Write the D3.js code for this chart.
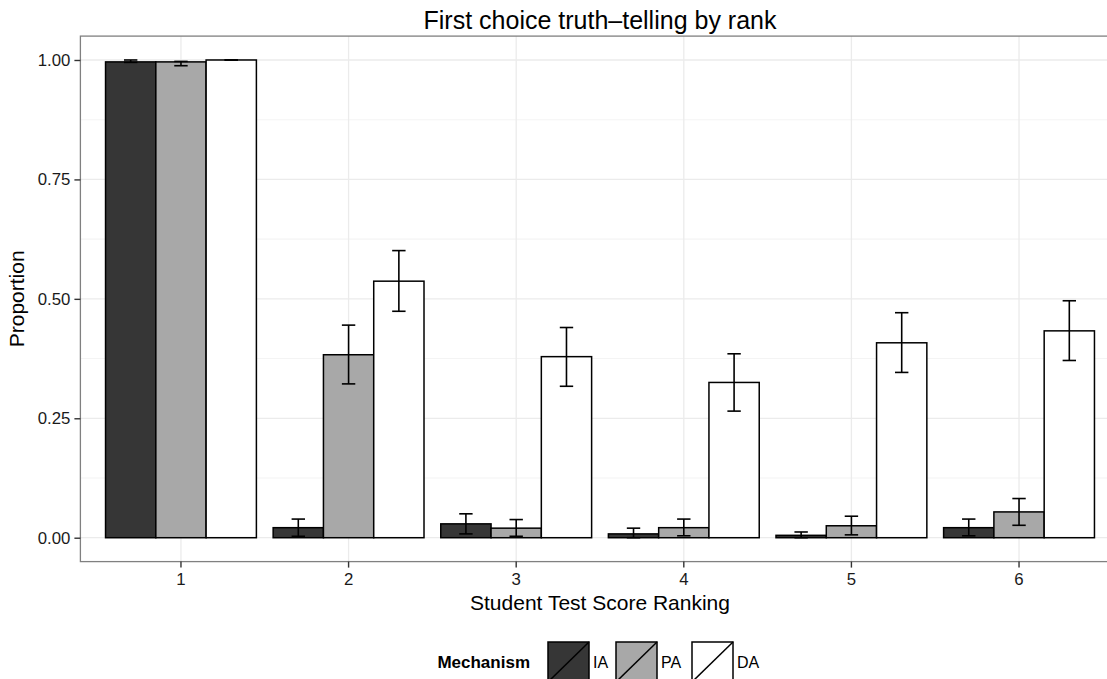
<!DOCTYPE html>
<html>
<head>
<meta charset="utf-8">
<script src="https://cdn.jsdelivr.net/npm/d3@7"></script>
<style>
  html, body { margin: 0; padding: 0; background: #fff; }
  svg { display: block; font-family: "Liberation Sans", Arial, sans-serif; }
</style>
</head>
<body>
<svg id="chart" width="1107" height="679"></svg>
<script>
// Student test score ranking categories and mechanisms
const ranks = ["1", "2", "3", "4", "5", "6"];
const mechanisms = ["IA", "PA", "DA"];
const mechanismFills = ["#363636", "#a8a8a8", "#ffffff"];

// Proportion of first-choice truth-telling, by rank, for each mechanism
const valuesIA = [0.996, 0.021, 0.029, 0.008, 0.005, 0.021];
const valuesPA = [0.996, 0.383, 0.020, 0.021, 0.025, 0.054];
const valuesDA = [1.000, 0.537, 0.379, 0.325, 0.408, 0.433];

// Error bar bounds
const lowerIA = [0.995, 0.003, 0.008, 0.000, 0.000, 0.004];
const upperIA = [1.000, 0.039, 0.050, 0.020, 0.012, 0.039];
const lowerPA = [0.988, 0.322, 0.003, 0.004, 0.006, 0.026];
const upperPA = [0.997, 0.445, 0.038, 0.039, 0.045, 0.082];
const lowerDA = [1.000, 0.474, 0.317, 0.265, 0.346, 0.371];
const upperDA = [1.000, 0.601, 0.440, 0.385, 0.471, 0.496];

const yTicks = [0, 0.25, 0.5, 0.75, 1.0];
const yMinor = [0.125, 0.375, 0.625, 0.875];

const series = {
  IA: { v: valuesIA, lo: lowerIA, hi: upperIA },
  PA: { v: valuesPA, lo: lowerPA, hi: upperPA },
  DA: { v: valuesDA, lo: lowerDA, hi: upperDA }
};

const rows = [];
ranks.forEach((r, i) => {
  mechanisms.forEach(m => {
    rows.push({ rank: r, mech: m, value: series[m].v[i], lo: series[m].lo[i], hi: series[m].hi[i] });
  });
});

const svg = d3.select("#chart");

const panel = { left: 80.4, right: 1119.6, top: 36.1, bottom: 561.6 };

const x = d3.scaleBand()
  .domain(ranks)
  .range([panel.left, panel.right])
  .paddingInner(0.1)
  .paddingOuter(0.15);

const xSub = d3.scaleBand()
  .domain(mechanisms)
  .range([0, x.bandwidth()]);

const y = d3.scaleLinear()
  .domain([-0.05, 1.05])
  .range([panel.bottom, panel.top]);

const fill = d3.scaleOrdinal().domain(mechanisms).range(mechanismFills);

// Panel background and grid
const g = svg.append("g");
g.append("rect")
  .attr("x", panel.left).attr("y", panel.top)
  .attr("width", panel.right - panel.left).attr("height", panel.bottom - panel.top)
  .attr("fill", "#fff");

g.selectAll("line.minor").data(yMinor).join("line")
  .attr("x1", panel.left).attr("x2", panel.right)
  .attr("y1", d => y(d)).attr("y2", d => y(d))
  .attr("stroke", "#f4f4f4").attr("stroke-width", 1.1);

g.selectAll("line.majy").data(yTicks).join("line")
  .attr("x1", panel.left).attr("x2", panel.right)
  .attr("y1", d => y(d)).attr("y2", d => y(d))
  .attr("stroke", "#ebebeb").attr("stroke-width", 1.3);

g.selectAll("line.majx").data(ranks).join("line")
  .attr("x1", d => x(d) + x.bandwidth() / 2).attr("x2", d => x(d) + x.bandwidth() / 2)
  .attr("y1", panel.top).attr("y2", panel.bottom)
  .attr("stroke", "#ebebeb").attr("stroke-width", 1.3);

// Bars
const barX = d => x(d.rank) + xSub(d.mech);
g.selectAll("rect.bar").data(rows).join("rect")
  .attr("class", "bar")
  .attr("x", barX)
  .attr("width", xSub.bandwidth())
  .attr("y", d => y(d.value))
  .attr("height", d => y(0) - y(d.value))
  .attr("fill", d => fill(d.mech))
  .attr("stroke", "#000")
  .attr("stroke-width", 1.5);

// Error bars
const capHalf = 6.7;
const eb = g.selectAll("g.err").data(rows).join("g").attr("class", "err")
  .attr("stroke", "#000").attr("stroke-width", 1.6);
eb.append("line")
  .attr("x1", d => barX(d) + xSub.bandwidth() / 2).attr("x2", d => barX(d) + xSub.bandwidth() / 2)
  .attr("y1", d => y(d.lo)).attr("y2", d => y(d.hi));
eb.append("line")
  .attr("x1", d => barX(d) + xSub.bandwidth() / 2 - capHalf).attr("x2", d => barX(d) + xSub.bandwidth() / 2 + capHalf)
  .attr("y1", d => y(d.hi)).attr("y2", d => y(d.hi));
eb.append("line")
  .attr("x1", d => barX(d) + xSub.bandwidth() / 2 - capHalf).attr("x2", d => barX(d) + xSub.bandwidth() / 2 + capHalf)
  .attr("y1", d => y(d.lo)).attr("y2", d => y(d.lo));

// Panel border
g.append("rect")
  .attr("x", panel.left).attr("y", panel.top)
  .attr("width", panel.right - panel.left).attr("height", panel.bottom - panel.top)
  .attr("fill", "none").attr("stroke", "#808080").attr("stroke-width", 1.3);

// Axes
const yAxis = svg.append("g")
  .attr("transform", `translate(${panel.left},0)`)
  .call(d3.axisLeft(y).tickValues(yTicks).tickFormat(d3.format(".2f")).tickSize(6).tickPadding(4));
const xAxis = svg.append("g")
  .attr("transform", `translate(0,${panel.bottom})`)
  .call(d3.axisBottom(x).tickSize(6).tickPadding(5));
[yAxis, xAxis].forEach(a => {
  a.select(".domain").remove();
  a.selectAll(".tick line").attr("stroke", "#333").attr("stroke-width", 1.4);
  a.selectAll(".tick text").attr("fill", "#1a1a1a").style("font-size", "16.8px")
    .style("font-family", "'Liberation Sans', Arial, sans-serif");
});

// Titles
svg.append("text")
  .attr("x", (panel.left + panel.right) / 2).attr("y", 29)
  .attr("text-anchor", "middle").attr("fill", "#000")
  .style("font-size", "25px")
  .text("First choice truth\u2013telling by rank");

svg.append("text")
  .attr("x", (panel.left + panel.right) / 2).attr("y", 610)
  .attr("text-anchor", "middle").attr("fill", "#000")
  .style("font-size", "21px")
  .text("Student Test Score Ranking");

svg.append("text")
  .attr("transform", `translate(24,${(panel.top + panel.bottom) / 2}) rotate(-90)`)
  .attr("text-anchor", "middle").attr("fill", "#000")
  .style("font-size", "21px")
  .text("Proportion");

// Legend
const legend = svg.append("g");
legend.append("text")
  .attr("x", 530).attr("y", 668)
  .attr("text-anchor", "end").attr("fill", "#000")
  .style("font-size", "17px").style("font-weight", "bold")
  .text("Mechanism");

const keyX = [548, 616, 692];
const keyW = 41, keyTop = 642, keyH = 40;
mechanisms.forEach((m, i) => {
  const k = legend.append("g").attr("transform", `translate(${keyX[i]},${keyTop})`);
  k.append("rect").attr("width", keyW).attr("height", keyH)
    .attr("fill", fill(m)).attr("stroke", "#000").attr("stroke-width", 1.5);
  k.append("line").attr("x1", 0).attr("y1", keyH).attr("x2", keyW).attr("y2", 0)
    .attr("stroke", "#000").attr("stroke-width", 1.5);
  legend.append("text")
    .attr("x", keyX[i] + keyW + 4).attr("y", 668)
    .attr("fill", "#000").style("font-size", "16px")
    .text(m);
});
</script>
</body>
</html>
